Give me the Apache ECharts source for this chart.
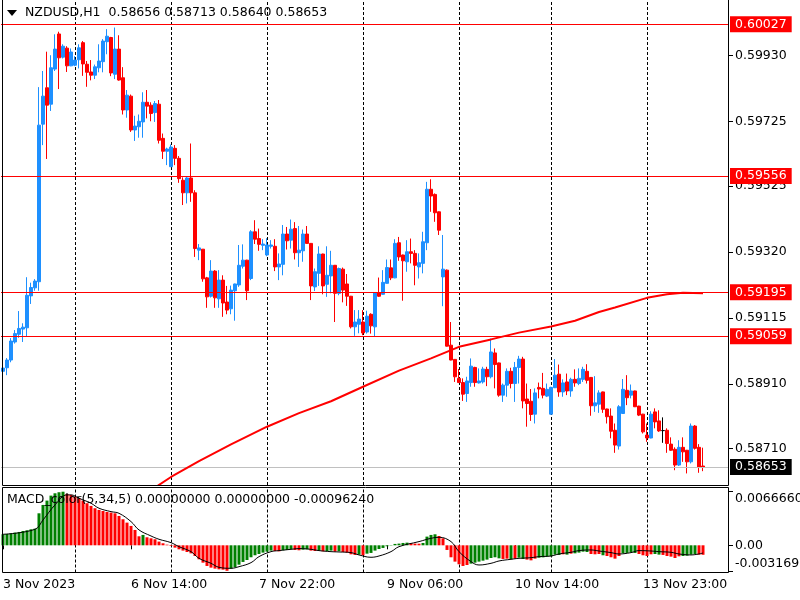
<!DOCTYPE html>
<html><head><meta charset="utf-8">
<script src="https://cdn.jsdelivr.net/npm/echarts/dist/echarts.min.js"></script>
<style>html,body{margin:0;padding:0;background:#fff}#c{width:800px;height:600px}</style>
</head><body><div id="c"></div>
<script>
// trading sessions shown (day label, first hour, last hour)
const days = [['3 Nov',5,22],['6 Nov',0,23],['7 Nov',0,23],['8 Nov',0,23],['9 Nov',0,23],['10 Nov',0,22],['13 Nov',0,23],['14 Nov',0,14]];
const symbolTitle = 'NZDUSD,H1';
const macdTitle = 'MACD_color(5,34,5) 0.00000000 0.00000000 -0.00096240';

const open = [.58950,.58961,.58985,.59041,.59065,.59081,.59085,.59184,.59209,.59228,
.59717,.59830,.59779,.59888,.59997,.59925,.59953,.59898,.59900,.59917,
.59970,.59903,.59879,.59869,.59892,.59911,.59973,.59986,.59872,.59950,
.59861,.59761,.59804,.59699,.59709,.59724,.59785,.59776,.59753,.59779,
.59673,.59633,.59585,.59642,.59611,.59543,.59504,.59550,.59504,.59326,
.59329,.59240,.59183,.59261,.59175,.59233,.59165,.59144,.59200,.59218,
.59276,.59295,.59238,.59383,.59362,.59341,.59311,.59338,.59338,.59274,
.59282,.59376,.59357,.59393,.59318,.59324,.59376,.59347,.59212,.59254,
.59314,.59220,.59246,.59279,.59192,.59267,.59221,.59183,.59088,.59096,
.59103,.59072,.59127,.59088,.59194,.59189,.59223,.59271,.59240,.59349,
.59311,.59290,.59321,.59316,.59274,.59285,.59349,.59515,.59499,.59445,
.59243,.59264,.59031,.58987,.58928,.58915,.58881,.58915,.58962,.58914,
.58917,.58956,.58933,.59007,.58976,.58876,.58907,.58950,.58912,.58962,
.58988,.58864,.58857,.58817,.58900,.58897,.58873,.58817,.58899,.58941,
.58886,.58917,.58889,.58925,.58912,.58925,.58950,.58931,.58843,.58848,
.58886,.58833,.58811,.58767,.58718,.58819,.58891,.58876,.58889,.58842,
.58817,.58752,.58743,.58824,.58796,.58766,.58767,.58724,.58708,.58659,
.58714,.58705,.58669,.58780,.58714,.58656];
const close = [.58960,.58985,.59044,.59067,.59083,.59087,.59186,.59210,.59230,.59714,
.59804,.59776,.59892,.59950,.59923,.59959,.59898,.59941,.59916,.59954,
.59904,.59878,.59869,.59895,.59913,.59975,.59990,.59876,.59950,.59854,
.59761,.59807,.59699,.59711,.59726,.59785,.59773,.59750,.59781,.59667,
.59633,.59640,.59646,.59611,.59548,.59504,.59550,.59504,.59331,.59333,
.59237,.59181,.59261,.59178,.59233,.59162,.59140,.59202,.59221,.59279,
.59295,.59200,.59383,.59360,.59344,.59345,.59342,.59342,.59274,.59283,
.59376,.59355,.59391,.59318,.59326,.59376,.59347,.59215,.59259,.59314,
.59215,.59248,.59279,.59192,.59269,.59202,.59183,.59088,.59103,.59112,
.59069,.59121,.59091,.59194,.59183,.59226,.59272,.59240,.59347,.59305,
.59293,.59321,.59316,.59279,.59287,.59352,.59515,.59494,.59442,.59388,
.59267,.59028,.58985,.58933,.58915,.58879,.58920,.58966,.58915,.58920,
.58957,.58933,.59010,.58971,.58876,.58907,.58950,.58912,.58962,.58988,
.58858,.58850,.58816,.58883,.58895,.58876,.58894,.58900,.58938,.58886,
.58914,.58889,.58925,.58914,.58928,.58956,.58922,.58843,.58852,.58883,
.58832,.58809,.58764,.58721,.58840,.58894,.58868,.58889,.58840,.58814,
.58762,.58743,.58817,.58793,.58765,.58766,.58726,.58705,.58659,.58714,
.58700,.58669,.58780,.58711,.58653,.58653];
const high = [.59006,.58991,.59053,.59078,.59137,.59099,.59242,.59225,.59236,.59832,
.59882,.59942,.59931,.59996,.60004,.59965,.59959,.59952,.59928,.59965,
.59975,.59913,.59916,.59902,.59965,.59981,.60012,.59988,.60017,.59993,
.59894,.59823,.59809,.59743,.59747,.59816,.59823,.59785,.59789,.59792,
.59688,.59644,.59654,.59652,.59618,.59552,.59554,.59657,.59512,.59345,
.59329,.59243,.59295,.59264,.59264,.59248,.59215,.59216,.59222,.59342,
.59344,.59296,.59388,.59419,.59393,.59360,.59363,.59357,.59360,.59316,
.59404,.59398,.59421,.59413,.59401,.59390,.59401,.59348,.59269,.59338,
.59315,.59338,.59324,.59280,.59272,.59272,.59252,.59184,.59140,.59140,
.59140,.59138,.59130,.59195,.59241,.59264,.59297,.59297,.59360,.59367,
.59312,.59357,.59362,.59326,.59316,.59383,.59538,.59546,.59502,.59446,
.59373,.59266,.59103,.58988,.58957,.58928,.58933,.58990,.58964,.58959,
.58964,.58964,.59052,.59021,.58977,.58912,.58959,.58961,.58979,.58998,
.58995,.58912,.58895,.58897,.58915,.58945,.58912,.58902,.58988,.58971,
.58925,.58943,.58930,.58956,.58959,.58964,.58972,.58932,.58935,.58891,
.58887,.58834,.58835,.58788,.58845,.58926,.58938,.58909,.58890,.58843,
.58818,.58788,.58826,.58835,.58829,.58807,.58773,.58745,.58714,.58736,
.58745,.58706,.58788,.58783,.58724,.58713];
const low = [.58919,.58938,.58978,.59036,.59054,.59041,.59057,.59159,.59200,.59200,
.59652,.59609,.59758,.59882,.59826,.59921,.59879,.59897,.59897,.59890,
.59867,.59833,.59853,.59857,.59878,.59878,.59934,.59866,.59857,.59852,
.59747,.59737,.59693,.59665,.59675,.59675,.59735,.59726,.59724,.59657,
.59609,.59590,.59584,.59590,.59535,.59466,.59471,.59476,.59305,.59295,
.59228,.59147,.59179,.59147,.59147,.59119,.59127,.59127,.59107,.59212,
.59269,.59171,.59233,.59345,.59324,.59326,.59307,.59331,.59261,.59233,
.59248,.59328,.59331,.59297,.59274,.59290,.59346,.59171,.59199,.59215,
.59189,.59181,.59192,.59103,.59186,.59164,.59153,.59083,.59060,.59068,
.59062,.59067,.59067,.59059,.59181,.59188,.59222,.59233,.59239,.59293,
.59169,.59259,.59285,.59217,.59238,.59254,.59326,.59445,.59414,.59373,
.59152,.59027,.58984,.58917,.58914,.58858,.58855,.58902,.58902,.58912,
.58912,.58904,.58928,.58897,.58871,.58855,.58871,.58897,.58855,.58912,
.58835,.58778,.58796,.58788,.58866,.58866,.58870,.58816,.58898,.58871,
.58871,.58876,.58871,.58902,.58907,.58917,.58912,.58812,.58824,.58821,
.58821,.58788,.58742,.58697,.58707,.58818,.58845,.58866,.58839,.58811,
.58757,.58731,.58742,.58773,.58762,.58728,.58697,.58703,.58643,.58656,
.58669,.58633,.58664,.58707,.58635,.58640];

// 200-period moving average, read at these bar positions
const maIdx = [37,42,49,57,66,74,82,90,99,107,114,122,129,137,143,149,153,161,166,170,175];
const maVal = [.58581,.58622,.58671,.58723,.58778,.58820,.58857,.58902,.58952,.58990,.59026,.59049,.59070,.59089,.59107,.59134,.59148,.59178,.59189,.59194,.59192];

// horizontal levels and current bid
const levels = [0.60027, 0.59556, 0.59195, 0.59059];
const bid = 0.58653;
const priceTicks = [0.59930, 0.59725, 0.59525, 0.59320, 0.59115, 0.58910, 0.58710];

// MACD histogram (G = rising/green, R = falling/red)
const macdHist = [13.7e-4,14.1e-4,14.9e-4,15.8e-4,16.6e-4,17.8e-4,18.7e-4,19.9e-4,20.7e-4,39.8e-4,
50.2e-4,55.6e-4,61.8e-4,64.7e-4,66.0e-4,66.66e-4,63.9e-4,62.7e-4,60.6e-4,58.5e-4,
55.6e-4,52.3e-4,49.0e-4,46.1e-4,44.0e-4,42.7e-4,41.5e-4,40.7e-4,39.8e-4,36.5e-4,
32.4e-4,28.2e-4,24.1e-4,19.1e-4,11.2e-4,12.9e-4,9.96e-4,8.7e-4,7.5e-4,4.6e-4,
2.5e-4,0.8e-4,-0.8e-4,-2.9e-4,-5.0e-4,-6.6e-4,-8.3e-4,-10.0e-4,-13.3e-4,-17.4e-4,
-21.6e-4,-25.7e-4,-27.8e-4,-29.0e-4,-29.9e-4,-30.3e-4,-31.699e-4,-29.0e-4,-27.4e-4,-24.1e-4,
-20.7e-4,-18.3e-4,-14.9e-4,-12.4e-4,-10.8e-4,-9.1e-4,-7.9e-4,-6.6e-4,-7.1e-4,-7.5e-4,
-6.2e-4,-5.8e-4,-5.0e-4,-5.8e-4,-6.2e-4,-5.4e-4,-5.0e-4,-6.6e-4,-7.1e-4,-6.6e-4,
-7.5e-4,-7.1e-4,-6.6e-4,-7.9e-4,-7.5e-4,-8.3e-4,-9.1e-4,-11.2e-4,-12.0e-4,-11.6e-4,
-12.4e-4,-10.4e-4,-9.5e-4,-6.6e-4,-4.6e-4,-3.3e-4,-1.2e-4,-0.4e-4,1.7e-4,2.1e-4,
2.9e-4,3.3e-4,2.5e-4,2.1e-4,2.0e-4,2.9e-4,10.8e-4,12.9e-4,13.7e-4,11.6e-4,
8.7e-4,-5.8e-4,-14.9e-4,-20.3e-4,-23.6e-4,-25.7e-4,-24.5e-4,-22.8e-4,-21.6e-4,-20.3e-4,
-19.1e-4,-17.8e-4,-15.8e-4,-14.9e-4,-16.2e-4,-17.0e-4,-16.6e-4,-17.4e-4,-16.6e-4,-15.4e-4,
-17.0e-4,-17.8e-4,-18.7e-4,-16.6e-4,-15.4e-4,-15.0e-4,-14.1e-4,-13.7e-4,-11.6e-4,-12.0e-4,
-11.2e-4,-11.6e-4,-10.4e-4,-10.0e-4,-9.1e-4,-7.9e-4,-8.3e-4,-10.8e-4,-11.2e-4,-10.8e-4,
-12.4e-4,-13.3e-4,-14.9e-4,-16.6e-4,-13.3e-4,-10.0e-4,-9.5e-4,-8.7e-4,-9.5e-4,-10.8e-4,
-12.4e-4,-13.3e-4,-11.2e-4,-10.8e-4,-11.6e-4,-12.0e-4,-13.3e-4,-14.1e-4,-15.8e-4,-13.7e-4,
-13.3e-4,-12.9e-4,-11.6e-4,-10.8e-4,-11.6e-4,-11.8e-4];
const macdColor = 'GGGGGGGGGGGGGGGGRRRRRRRRRRRRRRRRRRRGRRRRRRRRRRRRRRRRRRRRRGGGGGGGGGGGRRGGGRRGGRRGRGGRGRRRRGRGGGGGGGGGGGRRRGGGGRRRRRRRRGGGGGGGGRRGRGGRRRGGGGGGRGRGGGGRRRGRRRRGGGGRRRRGGRRRRRGGGGRR';
// signal line, read at these bar positions
const sigIdx = [0,8,10,13,16,17,19,22,24,27,29,32,34,37,39,42,44,47,49,52,54,57,59,62,64,67,69,72,74,77,79,82,84,87,89,92,94,97,99,104,107,109,112,114,117,119,122,124,127,129,132,134,137,139,142,144,147,149,152,154,157,159,162,164,167,169,172,175];
const sigVal = [13.7e-4,19.9e-4,31.5e-4,50.2e-4,62.7e-4,62.7e-4,58.5e-4,52.3e-4,46.1e-4,41.9e-4,39.8e-4,29.5e-4,19.1e-4,11.6e-4,7.5e-4,3.3e-4,-1.7e-4,-7.9e-4,-16.2e-4,-22.4e-4,-27.4e-4,-28.6e-4,-26.6e-4,-21.6e-4,-14.1e-4,-7.9e-4,-6.6e-4,-5.0e-4,-4.1e-4,-5.0e-4,-6.6e-4,-7.9e-4,-8.3e-4,-9.1e-4,-12.0e-4,-14.9e-4,-13.3e-4,-7.9e-4,-1.7e-4,4.6e-4,8.7e-4,10.0e-4,4.6e-4,-7.9e-4,-20.3e-4,-24.5e-4,-22.4e-4,-19.5e-4,-17.4e-4,-16.2e-4,-15.4e-4,-14.1e-4,-13.3e-4,-10.8e-4,-8.7e-4,-6.6e-4,-5.8e-4,-7.1e-4,-9.1e-4,-10.8e-4,-9.1e-4,-6.6e-4,-7.1e-4,-7.9e-4,-8.7e-4,-10.8e-4,-12.0e-4,-9.624e-4];

// ---------- build ----------
const cats = [];
days.forEach(([d, h0, h1]) => { for (let h = h0; h <= h1; h++) cats.push(d + ' ' + String(h).padStart(2, '0') + ':00'); });
const nBars = cats.length;
for (let k = 0; k < 6; k++) cats.push('shift' + k);   // empty right margin (chart shift)
const dayStarts = cats.filter(c => c.endsWith(' 00:00'));

const FONT = 'DejaVu Sans', FS = 12.5;
const candles = open.map((o, i) => [o, close[i], low[i], high[i]]);
const maData = maIdx.map((i, k) => [i, maVal[k]]);
const histData = macdHist.map((v, i) => ({ value: v, itemStyle: { color: macdColor[i] === 'G' ? '#008000' : '#FF0000' } }));
const sigData = sigIdx.map((i, k) => [i, sigVal[k]]);

const priceMax = 0.600962, priceMin = 0.585971;
const macdMax = 0.0071891, macdMin = -0.0033831;
const macdLabelVals = [0.006666, 0, -0.0031699];

const dashLine = { type: [3, 2], color: '#000', width: 1 };
const vLines = (z) => ({ silent: true, symbol: ['none', 'none'], z: z, animation: false,
  label: { show: false }, lineStyle: dashLine, data: dayStarts.map(c => ({ xAxis: c })) });

const chart = echarts.init(document.getElementById('c'), null, { renderer: 'canvas', width: 800, height: 600 });
chart.setOption({
  animation: false,
  backgroundColor: '#fff',
  textStyle: { fontFamily: FONT },
  grid: [
    { left: 1, top: 2, width: 728, height: 483, containLabel: false, outerBoundsMode: 'none' },
    { left: 1, top: 487.5, width: 728, height: 85, containLabel: false, outerBoundsMode: 'none' }
  ],
  xAxis: [
    { type: 'category', gridIndex: 0, data: cats, boundaryGap: true,
      axisLine: { show: false }, axisTick: { show: false }, axisLabel: { show: false }, splitLine: { show: false } },
    { type: 'category', gridIndex: 1, data: cats, boundaryGap: true,
      axisLine: { show: false },
      axisTick: { show: true, interval: 31, alignWithLabel: true, length: 4, lineStyle: { color: '#000' } },
      axisLabel: { show: true, interval: 31, align: 'left', margin: 6, color: '#000', fontFamily: FONT, fontSize: FS,
        formatter: (v, i) => i === 0 ? '3 Nov 2023' : v },
      splitLine: { show: false } }
  ],
  yAxis: [
    { type: 'value', gridIndex: 0, position: 'right', min: priceMin, max: priceMax,
      axisLine: { show: false }, splitLine: { show: false },
      axisTick: { show: true, customValues: priceTicks, length: 4, lineStyle: { color: '#000' } },
      axisLabel: { show: true, customValues: priceTicks, margin: 6, color: '#000', fontFamily: FONT, fontSize: FS,
        formatter: v => v.toFixed(5) } },
    { type: 'value', gridIndex: 1, position: 'right', min: macdMin, max: macdMax,
      axisLine: { show: false }, splitLine: { show: false },
      axisTick: { show: true, customValues: macdLabelVals, length: 4, lineStyle: { color: '#000' } },
      axisLabel: { show: true, customValues: macdLabelVals, margin: 6, color: '#000', fontFamily: FONT, fontSize: FS,
        formatter: v => v === 0 ? '{m|0.00}' : (v > 0 ? '{t|' + v.toFixed(7) + '}' : '{b|' + v.toFixed(7) + '}'),
        rich: { t: { padding: [14, 0, 0, 0], fontFamily: FONT, fontSize: FS, color: '#000' },
                m: { fontFamily: FONT, fontSize: FS, color: '#000' },
                b: { padding: [0, 0, 14, 0], fontFamily: FONT, fontSize: FS, color: '#000' } } } }
  ],
  series: [
    { type: 'line', xAxisIndex: 0, yAxisIndex: 0, data: [], silent: true, z: 1, markLine: vLines(1) },
    { type: 'line', xAxisIndex: 1, yAxisIndex: 1, data: [], silent: true, z: 1, markLine: vLines(1) },
    { type: 'candlestick', xAxisIndex: 0, yAxisIndex: 0, data: candles, barWidth: 3, silent: true, z: 3,
      itemStyle: { color: '#1E90FF', color0: '#FF0000', borderColor: '#1E90FF', borderColor0: '#FF0000',
                   borderColorDoji: '#000000', borderWidth: 1 },
      markLine: { silent: true, symbol: ['none', 'none'], animation: false, z: 4, precision: 6,
        data: levels.map(v => ({ yAxis: v, lineStyle: { color: '#FF0000', width: 1, type: 'solid' },
               label: { backgroundColor: '#FF0000', color: '#fff' } }))
          .concat([{ yAxis: bid, lineStyle: { color: '#C0C0C0', width: 1, type: 'solid' },
               label: { backgroundColor: '#000', color: '#fff' } }]),
        label: { show: true, position: 'end', distance: 1, fontFamily: FONT, fontSize: FS, padding: [2, 5, 1, 5],
                 formatter: p => Number(p.value).toFixed(5) } } },
    { type: 'line', xAxisIndex: 0, yAxisIndex: 0, data: maData, showSymbol: false, symbol: 'none', silent: true, z: 5,
      lineStyle: { color: '#FF0000', width: 2 } },
    { type: 'bar', xAxisIndex: 1, yAxisIndex: 1, data: histData, barWidth: 3, silent: true, z: 3 },
    { type: 'line', xAxisIndex: 1, yAxisIndex: 1, data: sigData, smooth: 0.4, showSymbol: false, symbol: 'none', silent: true, z: 4,
      lineStyle: { color: '#000', width: 1 } }
  ],
  graphic: [
    { type: 'polyline', silent: true, z: 100, shape: { points: [[2.5, 0], [2.5, 485.5], [728.5, 485.5], [728.5, 0]] }, style: { fill: null, stroke: '#000', lineWidth: 1 } },
    { type: 'rect', silent: true, z: 100, shape: { x: 2.5, y: 487.5, width: 726, height: 85 }, style: { fill: null, stroke: '#000', lineWidth: 1 } },
    { type: 'polygon', silent: true, z: 100, shape: { points: [[7, 10], [17, 10], [12, 16]] }, style: { fill: '#000' } },
    { type: 'text', silent: true, z: 100, x: 25, y: 13,
      style: { text: symbolTitle + '  ' + [open[nBars-1], high[nBars-1], low[nBars-1], close[nBars-1]].map(v => v.toFixed(5)).join(' '),
               fill: '#000', font: FS + 'px "' + FONT + '"', verticalAlign: 'middle' } },
    { type: 'text', silent: true, z: 100, x: 7, y: 500,
      style: { text: macdTitle, fill: '#000', font: FS + 'px "' + FONT + '"', verticalAlign: 'middle' } }
  ]
});
</script></body></html>
